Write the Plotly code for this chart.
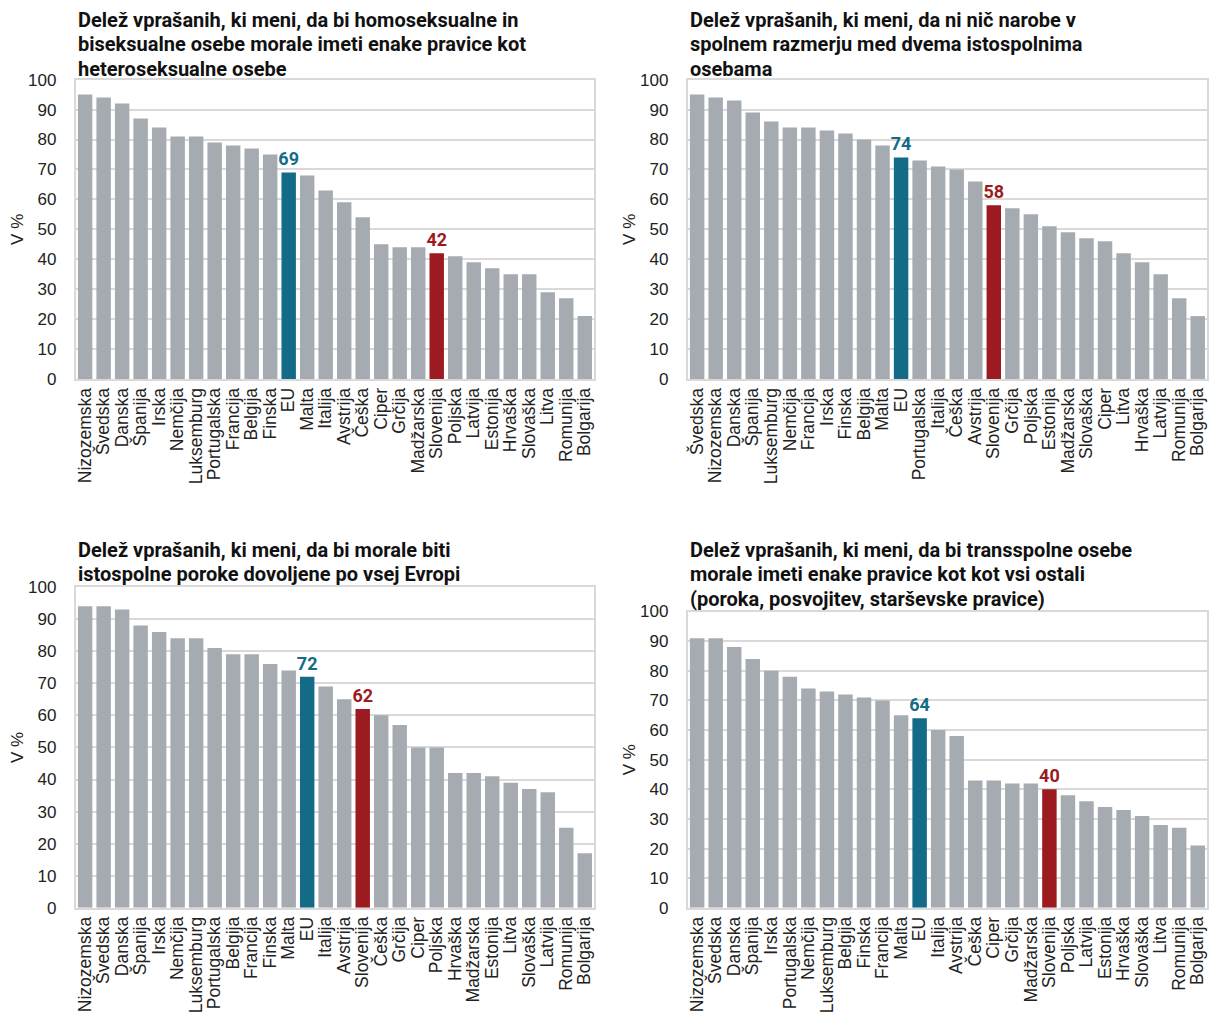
import plotly.graph_objects as go

W, H = 1209, 1015

# ---------------- data ----------------
cats1 = ["Nizozemska", "Švedska", "Danska", "Španija", "Irska", "Nemčija", "Luksemburg",
         "Portugalska", "Francija", "Belgija", "Finska", "EU", "Malta", "Italija", "Avstrija",
         "Češka", "Ciper", "Grčija", "Madžarska", "Slovenija", "Poljska", "Latvija",
         "Estonija", "Hrvaška", "Slovaška", "Litva", "Romunija", "Bolgarija"]
vals1 = [95, 94, 92, 87, 84, 81, 81, 79, 78, 77, 75, 69, 68, 63, 59, 54, 45, 44, 44, 42,
         41, 39, 37, 35, 35, 29, 27, 21]

cats2 = ["Švedska", "Nizozemska", "Danska", "Španija", "Luksemburg", "Nemčija", "Francija",
         "Irska", "Finska", "Belgija", "Malta", "EU", "Portugalska", "Italija", "Češka",
         "Avstrija", "Slovenija", "Grčija", "Poljska", "Estonija", "Madžarska", "Slovaška",
         "Ciper", "Litva", "Hrvaška", "Latvija", "Romunija", "Bolgarija"]
vals2 = [95, 94, 93, 89, 86, 84, 84, 83, 82, 80, 78, 74, 73, 71, 70, 66, 58, 57, 55, 51,
         49, 47, 46, 42, 39, 35, 27, 21]

cats3 = ["Nizozemska", "Švedska", "Danska", "Španija", "Irska", "Nemčija", "Luksemburg",
         "Portugalska", "Belgija", "Francija", "Finska", "Malta", "EU", "Italija", "Avstrija",
         "Slovenija", "Češka", "Grčija", "Ciper", "Poljska", "Hrvaška", "Madžarska",
         "Estonija", "Litva", "Slovaška", "Latvija", "Romunija", "Bolgarija"]
vals3 = [94, 94, 93, 88, 86, 84, 84, 81, 79, 79, 76, 74, 72, 69, 65, 62, 60, 57, 50, 50,
         42, 42, 41, 39, 37, 36, 25, 17]

cats4 = ["Nizozemska", "Švedska", "Danska", "Španija", "Irska", "Portugalska", "Nemčija",
         "Luksemburg", "Belgija", "Finska", "Francija", "Malta", "EU", "Italija", "Avstrija",
         "Češka", "Ciper", "Grčija", "Madžarska", "Slovenija", "Poljska", "Latvija",
         "Estonija", "Hrvaška", "Slovaška", "Litva", "Romunija", "Bolgarija"]
vals4 = [91, 91, 88, 84, 80, 78, 74, 73, 72, 71, 70, 65, 64, 60, 58, 43, 43, 42, 42, 40,
         38, 36, 34, 33, 31, 28, 27, 21]

titles = [
    ["Delež vprašanih, ki meni, da bi homoseksualne in",
     "biseksualne osebe morale imeti enake pravice kot",
     "heteroseksualne osebe"],
    ["Delež vprašanih, ki meni, da ni nič narobe v",
     "spolnem razmerju med dvema istospolnima",
     "osebama"],
    ["Delež vprašanih, ki meni, da bi morale biti",
     "istospolne poroke dovoljene po vsej Evropi"],
    ["Delež vprašanih, ki meni, da bi transspolne osebe",
     "morale imeti enake pravice kot kot vsi ostali",
     "(poroka, posvojitev, starševske pravice)"],
]
y_title = "V %"
y_ticks = [0, 10, 20, 30, 40, 50, 60, 70, 80, 90, 100]

# ---------------- styling ----------------
GRAY = "#A5ABB1"
EU_COL = "#136B87"
SI_COL = "#9B1B20"
GRID = "#D9D9D9"

# plot-area boxes in pixels: (left, right, top, bottom)
boxes = [
    (74, 593, 72, 377),
    (687, 1207, 72, 377),
    (74, 593, 589, 916),
    (687, 1207, 614, 916),
]
title_y = [
    [11, 36, 61],
    [11, 36, 61],
    [551, 576],
    [551, 576, 601],
]

fig = go.Figure()
datasets = [(cats1, vals1), (cats2, vals2), (cats3, vals3), (cats4, vals4)]

for i, (cats, vals) in enumerate(datasets):
    n = "" if i == 0 else str(i + 1)
    colors = [EU_COL if c == "EU" else SI_COL if c == "Slovenija" else GRAY for c in cats]
    texts = [str(v) if c in ("EU", "Slovenija") else "" for c, v in zip(cats, vals)]
    tcols = [EU_COL if c == "EU" else SI_COL for c in cats]
    fig.add_trace(go.Bar(
        x=cats, y=vals, marker=dict(color=colors, line=dict(width=0)),
        text=texts, textposition="outside", constraintext="none", cliponaxis=False,
        textfont=dict(family="Roboto", size=18, color=tcols, weight="bold"),
        xaxis="x" + n, yaxis="y" + n, showlegend=False, hoverinfo="x+y",
    ))
    l, r, t, b = boxes[i]
    fig.layout["xaxis" + n] = dict(
        domain=[l / W, r / W], anchor="y" + n, type="category",
        tickmode="linear", dtick=1,
        tickangle=-90, tickfont=dict(family="Liberation Sans", size=17.5, color="#222"),
        showline=True, mirror=True, linecolor=GRID, linewidth=2, ticks="",
        showgrid=False, fixedrange=True,
    )
    fig.layout["yaxis" + n] = dict(
        domain=[1 - b / H, 1 - t / H], anchor="x" + n, range=[0, 100],
        tickvals=y_ticks, tickfont=dict(family="Liberation Sans", size=17, color="#222"),
        showgrid=True, gridcolor=GRID, gridwidth=2, zeroline=False,
        showline=True, mirror=True, linecolor=GRID, linewidth=2, ticks="",
        ticklabelstandoff=14,
        title=dict(text=y_title, font=dict(family="Liberation Sans", size=17, color="#222"),
                   standoff=0),
    )
    for line, yy in zip(titles[i], title_y[i]):
        fig.add_annotation(
            text="<b>" + line + "</b>", xref="paper", yref="paper",
            x=l / W, y=1 - yy / H, xanchor="left", yanchor="middle", showarrow=False,
            font=dict(family="Roboto", size=20, color="#111"),
        )

fig.update_layout(
    width=W, height=H, margin=dict(l=0, r=0, t=0, b=0),
    paper_bgcolor="white", plot_bgcolor="white", bargap=0.22,
)

fig.write_html("out.html", config={"displayModeBar": False},
               post_script="document.body.style.margin='0';document.body.style.overflow='hidden';")
